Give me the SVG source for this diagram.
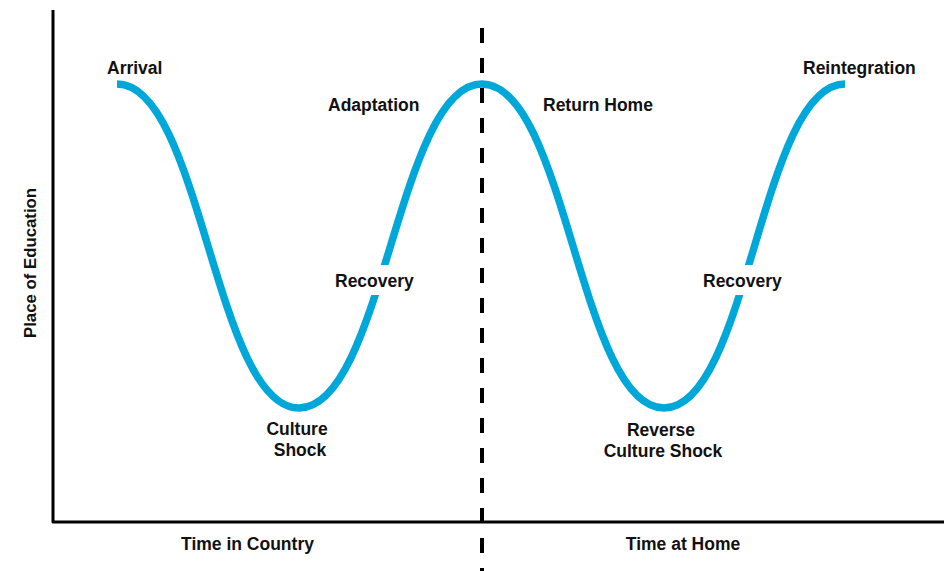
<svg xmlns="http://www.w3.org/2000/svg" width="944" height="571" viewBox="0 0 944 571">
  <style>
    .lbl { font-family: "Liberation Sans", Arial, Helvetica, sans-serif; font-weight: bold; font-size: 17.5px; fill: #111; }
    .axis { fill: none; stroke: #000; stroke-width: 3; stroke-linejoin: round; }
    .divider { fill: none; stroke: #000; stroke-width: 4; stroke-dasharray: 15 15; }
    .curve { fill: none; stroke: #00A8D9; stroke-width: 7.5; stroke-linecap: butt; }
  </style>
  <rect width="944" height="571" fill="#fff"/>
  <g id="connectors">
    <path id="axes" class="axis" d="M53,10 V522 H944"/>
    <path id="divider" class="divider" d="M482,28 V571"/>
    <path id="w-curve" class="curve" d="M117,84 C201,84 215,408 299,408 C383,408 398,84 482,84 C566,84 580,408 664,408 C748,408 761,84 845,84"/>
  </g>
  <g id="node-arrival"><text class="lbl" x="107" y="74">Arrival</text></g>
  <g id="node-adaptation"><text class="lbl" x="328" y="111">Adaptation</text></g>
  <g id="node-return-home"><text class="lbl" x="543" y="111">Return Home</text></g>
  <g id="node-reintegration"><text class="lbl" x="803" y="74">Reintegration</text></g>
  <g id="node-recovery-1">
    <rect x="332" y="265" width="83" height="30" fill="#fff"/>
    <text class="lbl" x="335" y="287">Recovery</text>
  </g>
  <g id="node-recovery-2">
    <rect x="700" y="265" width="83" height="30" fill="#fff"/>
    <text class="lbl" x="703" y="287">Recovery</text>
  </g>
  <g id="node-culture-shock">
    <text class="lbl" x="297" y="435" text-anchor="middle">Culture</text>
    <text class="lbl" x="300" y="456" text-anchor="middle">Shock</text>
  </g>
  <g id="node-reverse-culture-shock">
    <text class="lbl" x="661" y="436" text-anchor="middle">Reverse</text>
    <text class="lbl" x="663" y="457" text-anchor="middle">Culture Shock</text>
  </g>
  <g id="node-time-country"><text class="lbl" x="247.5" y="550" text-anchor="middle">Time in Country</text></g>
  <g id="node-time-home"><text class="lbl" x="683" y="550" text-anchor="middle">Time at Home</text></g>
  <g id="node-y-axis"><text class="lbl" style="font-size:16.8px" x="0" y="0" text-anchor="middle" transform="translate(36,263) rotate(-90)">Place of Education</text></g>
</svg>
